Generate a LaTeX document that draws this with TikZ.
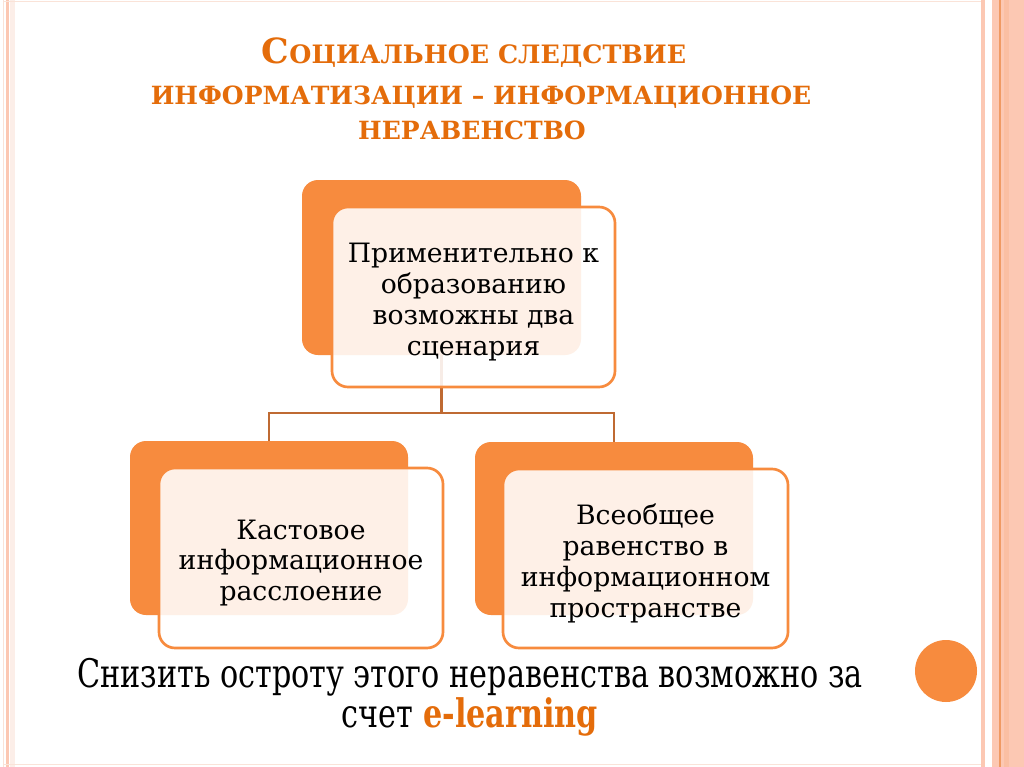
\documentclass[tikz,border=0pt]{standalone}
\usepackage{fontspec}
\setmainfont{DejaVu Serif}
\newfontfamily\condfont[FakeStretch=0.77]{DejaVu Serif}
\definecolor{orng}{HTML}{F78B3E}
\definecolor{ttl}{HTML}{E46C0A}
\definecolor{connc}{HTML}{BF6A32}
\definecolor{stripe}{HTML}{FCC8B3}
\definecolor{stripedark}{HTML}{F09A63}
\definecolor{faint}{HTML}{FAE3D8}
\pgfdeclarelayer{back}
\pgfdeclarelayer{bg}
\pgfsetlayers{back,bg,main}
\tikzset{
  backbox/.style={fill=orng, rounded corners=12pt, inner sep=0pt, draw=none},
  frontbox/.style={draw=orng, line width=2pt, fill=white, fill opacity=0.88,
    rounded corners=12pt, inner sep=0pt},
  boxtext/.style={align=center, text=black, inner sep=0pt,
    font=\fontsize{20}{23.2}\selectfont},
  connector/.style={draw=connc, line width=1.9pt},
  titleline/.style={text=ttl, font=\bfseries, inner sep=0pt, anchor=base},
  bottomtext/.style={inner sep=0pt, align=center, text=black,
    font=\condfont\fontsize{29.5}{27}\selectfont},
}
\begin{document}
\begin{tikzpicture}[x=0.75pt, y=-0.75pt]
\useasboundingbox (0,0) rectangle (1024,767);
\begin{pgfonlayer}{back}
\fill[white] (0,0) rectangle (1024,767);
% decorative frame
\fill[faint] (3,0) rectangle (4,767);
\fill[stripe] (6,0) rectangle (9,767);
\fill[faint!60] (10,0) rectangle (15,767);
\draw[faint, line width=0.75pt] (3,2) -- (981,2);
\draw[faint, line width=0.75pt] (3,764) -- (981,764);
\fill[stripe] (981,0) rectangle (985,767);
\fill[stripe] (992,0) rectangle (1024,767);
\fill[stripe!80!stripedark] (1004,0) rectangle (1009,767);
\draw[stripedark, line width=1pt] (1000,0) -- (1000,767);
\end{pgfonlayer}

% title
\node[titleline] (t1) at (474,64) {{\fontsize{26}{28}\selectfont С}{\fontsize{19}{21}\selectfont ОЦИАЛЬНОЕ СЛЕДСТВИЕ}};
\node[titleline] (t2) at (481,104) {\fontsize{18.8}{21}\selectfont ИНФОРМАТИЗАЦИИ – ИНФОРМАЦИОННОЕ};
\node[titleline] (t3) at (472,139) {\fontsize{18.8}{21}\selectfont НЕРАВЕНСТВО};

% boxes
\node[backbox, minimum width=209.25pt, minimum height=131.25pt] (b1) at (441.5,267.5) {};
\node[frontbox, minimum width=212.25pt, minimum height=135pt] (f1) at (473.5,297) {};
\node[boxtext] (f1t) at (473.5,302) {Применительно к\\образованию\\возможны два\\сценария};
\node[backbox, minimum width=208.5pt, minimum height=130.5pt] (b2) at (269,528) {};
\node[frontbox, minimum width=213pt, minimum height=135pt] (f2) at (301,558) {};
\node[boxtext] (f2t) at (301,563) {Кастовое\\информационное\\расслоение};
\node[backbox, minimum width=208.5pt, minimum height=129.75pt] (b3) at (614,528.5) {};
\node[frontbox, minimum width=213.75pt, minimum height=134.25pt] (f3) at (645.5,558.5) {};
\node[boxtext] (f3t) at (645.5,563.5) {Всеобщее\\равенство в\\информационном\\пространстве};

% connectors
\coordinate (jn) at (441.5,413);
\begin{pgfonlayer}{bg}
\draw[connector] (b1.south) -- (jn);
\draw[connector] (b2.north) |- (jn) -| (b3.north);
\end{pgfonlayer}

% circle
\node[circle, fill=orng, minimum size=46.5pt, inner sep=0pt] (dot) at (946,671) {};

% bottom text
\node[bottomtext, anchor=base] (bt) at (470,727) {Снизить остроту этого неравенства возможно за\\счет {\bfseries\color{ttl}e-learning}};
\end{tikzpicture}
\end{document}
